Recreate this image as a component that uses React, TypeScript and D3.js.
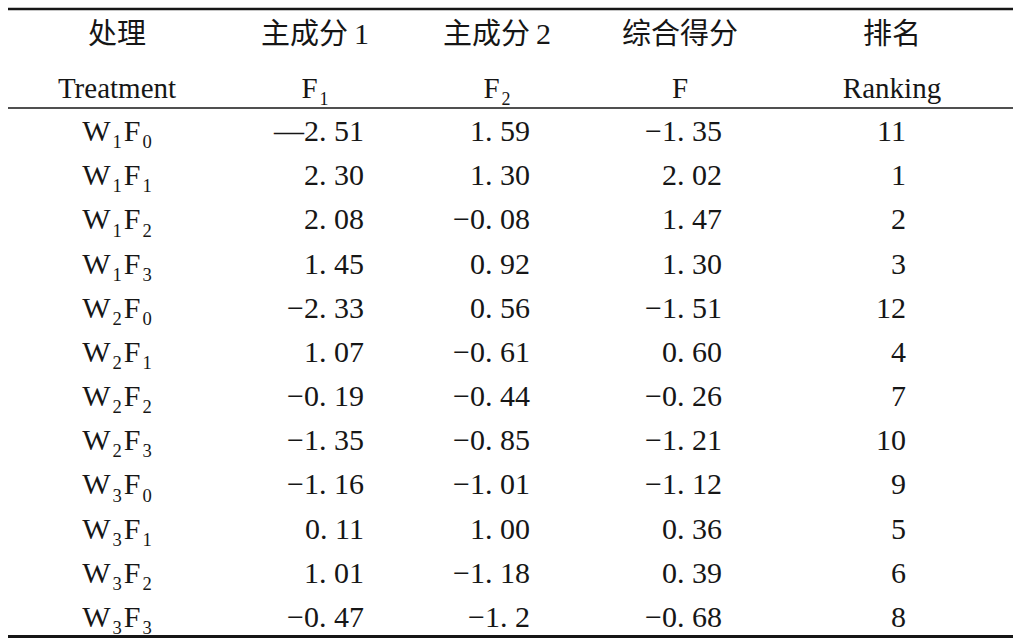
import React from 'react';
import * as d3 from 'd3';

// table content
const headerZh = ['处理', '主成分 1', '主成分 2', '综合得分', '排名'];
const headerEn = ['Treatment', 'F1', 'F2', 'F', 'Ranking'];
const treatments = ['W1F0', 'W1F1', 'W1F2', 'W1F3', 'W2F0', 'W2F1', 'W2F2', 'W2F3', 'W3F0', 'W3F1', 'W3F2', 'W3F3'];
const f1Values = ['—2. 51', '2. 30', '2. 08', '1. 45', '−2. 33', '1. 07', '−0. 19', '−1. 35', '−1. 16', '0. 11', '1. 01', '−0. 47'];
const f2Values = ['1. 59', '1. 30', '−0. 08', '0. 92', '0. 56', '−0. 61', '−0. 44', '−0. 85', '−1. 01', '1. 00', '−1. 18', '−1. 2'];
const fValues = ['−1. 35', '2. 02', '1. 47', '1. 30', '−1. 51', '0. 60', '−0. 26', '−1. 21', '−1. 12', '0. 36', '0. 39', '−0. 68'];
const rankings = ['11', '1', '2', '3', '12', '4', '7', '10', '9', '5', '6', '8'];

const W = 1024;
const H = 640;
const serif = '"Liberation Serif", "Times New Roman", serif';
const cjk = '"Noto Sans CJK SC", "Noto Sans CJK JP", sans-serif';
const ink = '#161616';

// header column centres and value column right edges
const headerX = [117, 315, 497, 680, 892];
const valueRight = [0, 364, 530, 722, 906];

const tableTop = 108;
const tableBottom = 638;

// letters followed by digits become subscripts: W1F0 -> W₁F₀
function withSubs(label: string, size: number) {
    const parts = label.match(/[A-Za-z]+|\d+/g) ?? [label];
    let lowered = false;
    return parts.map((p, i) => {
        if (/^\d+$/.test(p)) {
            lowered = true;
            return (
                <tspan key={i} dy={size * 0.24} dx={2} fontSize={size * 0.62}>{p}</tspan>
            );
        }
        const dy = lowered ? -size * 0.24 : 0;
        lowered = false;
        return <tspan key={i} dy={dy} dx={i > 0 ? 2 : 0}>{p}</tspan>;
    });
}

export default function App() {
    const y = d3.scaleBand<string>()
        .domain(treatments)
        .range([tableTop, tableBottom]);

    const columns = [f1Values, f2Values, fValues, rankings];
    const fs = 30;
    const baseOff = 11;

    return (
        <svg width={W} height={H} style={{ position: 'absolute', left: 0, top: 0, background: '#fff' }}>
            <rect width={W} height={H} fill="#fff" />

            {/* rules */}
            <line x1={8} x2={1013} y1={9} y2={9} stroke={ink} strokeWidth={2.6} />
            <line x1={8} x2={1013} y1={108} y2={108} stroke={ink} strokeWidth={1.5} />
            <line x1={8} x2={1013} y1={636.5} y2={636.5} stroke={ink} strokeWidth={3} />

            {/* header rows */}
            {headerZh.map((h, i) => (
                <text key={'zh' + i} x={headerX[i]} y={44} textAnchor="middle" fontFamily={cjk}
                    fontSize={29} fill={ink}>
                    {h.split(' ').map((part, j) => (
                        <tspan key={j} fontFamily={/\d/.test(part) ? serif : cjk} dx={j > 0 ? 6 : 0}
                            fontSize={/\d/.test(part) ? 30 : 29}>{part}</tspan>
                    ))}
                </text>
            ))}
            {headerEn.map((h, i) => (
                <text key={'en' + i} x={headerX[i]} y={98} textAnchor="middle" fontFamily={serif}
                    fontSize={29} fill={ink}>
                    {i > 0 && i < 3 ? withSubs(h, 29) : h}
                </text>
            ))}

            {/* treatment labels */}
            {treatments.map((t) => (
                <text key={t} x={headerX[0]} y={(y(t) ?? 0) + y.bandwidth() / 2 + baseOff}
                    textAnchor="middle" fontFamily={serif} fontSize={fs} fill={ink}>
                    {withSubs(t, fs)}
                </text>
            ))}

            {/* values */}
            {columns.map((col, c) => col.map((v, r) => (
                <text key={c + '-' + r} x={valueRight[c + 1]}
                    y={(y(treatments[r]) ?? 0) + y.bandwidth() / 2 + baseOff}
                    textAnchor="end" fontFamily={serif} fontSize={fs} fill={ink}
                    style={{ whiteSpace: 'pre' }}>
                    {v}
                </text>
            )))}
        </svg>
    );
}
